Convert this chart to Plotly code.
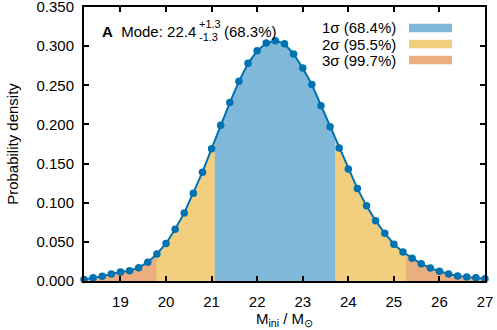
import numpy as np
import plotly.graph_objects as go

# Initial-mass grid (M_sun) and probability density
mass = [18.2, 18.4, 18.6, 18.8, 19.0, 19.2, 19.4, 19.6, 19.8, 20.0,
        20.2, 20.4, 20.6, 20.8, 21.0, 21.2, 21.4, 21.6, 21.8, 22.0,
        22.2, 22.4, 22.6, 22.8, 23.0, 23.2, 23.4, 23.6, 23.8, 24.0,
        24.2, 24.4, 24.6, 24.8, 25.0, 25.2, 25.4, 25.6, 25.8, 26.0,
        26.2, 26.4, 26.6, 26.8, 27.0]
density = [0.002, 0.004, 0.006, 0.009, 0.0115, 0.013, 0.017, 0.024, 0.0345, 0.048,
           0.066, 0.087, 0.112, 0.139, 0.169, 0.199, 0.228, 0.255, 0.278, 0.294,
           0.304, 0.307, 0.303, 0.290, 0.272, 0.251, 0.224, 0.197, 0.170, 0.143,
           0.118, 0.096, 0.077, 0.061, 0.047, 0.037, 0.029, 0.022, 0.0165, 0.0125,
           0.009, 0.0065, 0.005, 0.004, 0.003]

# credible intervals (outermost first so inner ones are painted on top)
interval_labels = ["3σ (99.7%)", "2σ (95.5%)", "1σ (68.4%)"]
interval_bounds = [(18.2, 27.0), (19.79, 25.27), (21.07, 23.71)]
interval_colors = ["#eaae7f", "#f2cf7f", "#7fb8d8"]

mode_value = 22.4
mode_err = (1.3, 1.3)
mode_pct = "68.3%"

LINE = "#0072b2"
FONT = "Liberation Sans, Arial, sans-serif"

W, H = 497, 330
# plot area in window pixels
X0, X1, Y0, Y1 = 84, 485, 7, 281
L, R, T, B = X0, W - X1, Y0, H - Y1


def px(x):
    return (x - X0) / (X1 - X0)


def py(y):
    return (Y1 - y) / (Y1 - Y0)


def band(lo, hi):
    xs = [m for m in mass if lo < m < hi]
    ys = [d for m, d in zip(mass, density) if lo < m < hi]
    xs = [lo] + xs + [hi]
    ys = [float(np.interp(lo, mass, density))] + ys + [float(np.interp(hi, mass, density))]
    return xs, ys


fig = go.Figure()
for (lo, hi), color in zip(interval_bounds, interval_colors):
    xs, ys = band(lo, hi)
    fig.add_scatter(x=xs, y=ys, mode="lines", line={"width": 0}, fill="tozeroy",
                    fillcolor=color, hoverinfo="skip", showlegend=False)

fig.add_scatter(x=mass, y=density, mode="lines+markers", cliponaxis=False,
                line={"color": LINE, "width": 2}, marker={"color": LINE, "size": 7.5},
                showlegend=False)

# hand-made legend: label on the left, colour swatch on the right
shapes = []
annotations = []
rows_y = [28, 44, 60]
for label, color, yc in zip(interval_labels[::-1], interval_colors[::-1], rows_y):
    annotations.append(dict(x=px(398), y=py(yc), xref="paper", yref="paper", text=label,
                            showarrow=False, xanchor="right", yanchor="middle",
                            font={"size": 15}))
    shapes.append(dict(type="rect", xref="paper", yref="paper", x0=px(409), x1=px(452),
                       y0=py(yc + 4.3), y1=py(yc - 4.3), fillcolor=color, line={"width": 0}))

# panel label with mode and asymmetric errors
annotations += [
    dict(x=px(198), y=py(31), xref="paper", yref="paper",
         text=f"<b>A</b>  Mode: {mode_value}", showarrow=False,
         xanchor="right", yanchor="middle", font={"size": 15}),
    dict(x=px(197), y=py(24), xref="paper", yref="paper", text=f"+{mode_err[1]}",
         showarrow=False, xanchor="left", yanchor="middle", font={"size": 11}),
    dict(x=px(197), y=py(36.5), xref="paper", yref="paper", text=f"-{mode_err[0]}",
         showarrow=False, xanchor="left", yanchor="middle", font={"size": 11}),
    dict(x=px(222), y=py(31), xref="paper", yref="paper", text=f"({mode_pct})",
         showarrow=False, xanchor="left", yanchor="middle", font={"size": 15}),
]

axis = dict(showline=True, linecolor="black", linewidth=2, mirror="ticks",
            ticks="inside", ticklen=5, tickwidth=1.5, tickcolor="black",
            showgrid=False, zeroline=False, tickfont={"size": 15}, automargin=False,
            ticklabeloverflow="allow")

fig.update_xaxes(range=[18.2, 27.0], dtick=1, ticklabelstandoff=6,
                 title={"text": "M<sub>ini</sub> / M<sub>⊙</sub>", "standoff": 4,
                        "font": {"size": 15}}, **axis)
fig.update_yaxes(range=[0, 0.35], dtick=0.05, tickformat=".3f", ticklabelstandoff=5,
                 title={"text": "Probability density", "standoff": 14,
                        "font": {"size": 15}}, **axis)

fig.update_layout(width=W, height=H, margin={"l": L, "r": R, "t": T, "b": B},
                  plot_bgcolor="white", paper_bgcolor="white",
                  font={"family": FONT, "color": "black"},
                  shapes=shapes, annotations=annotations)

# drop the default body margin so the figure sits at the window's top-left
fig.write_html("out.html", config={"displayModeBar": False},
               post_script="document.body.style.margin = '0';")
